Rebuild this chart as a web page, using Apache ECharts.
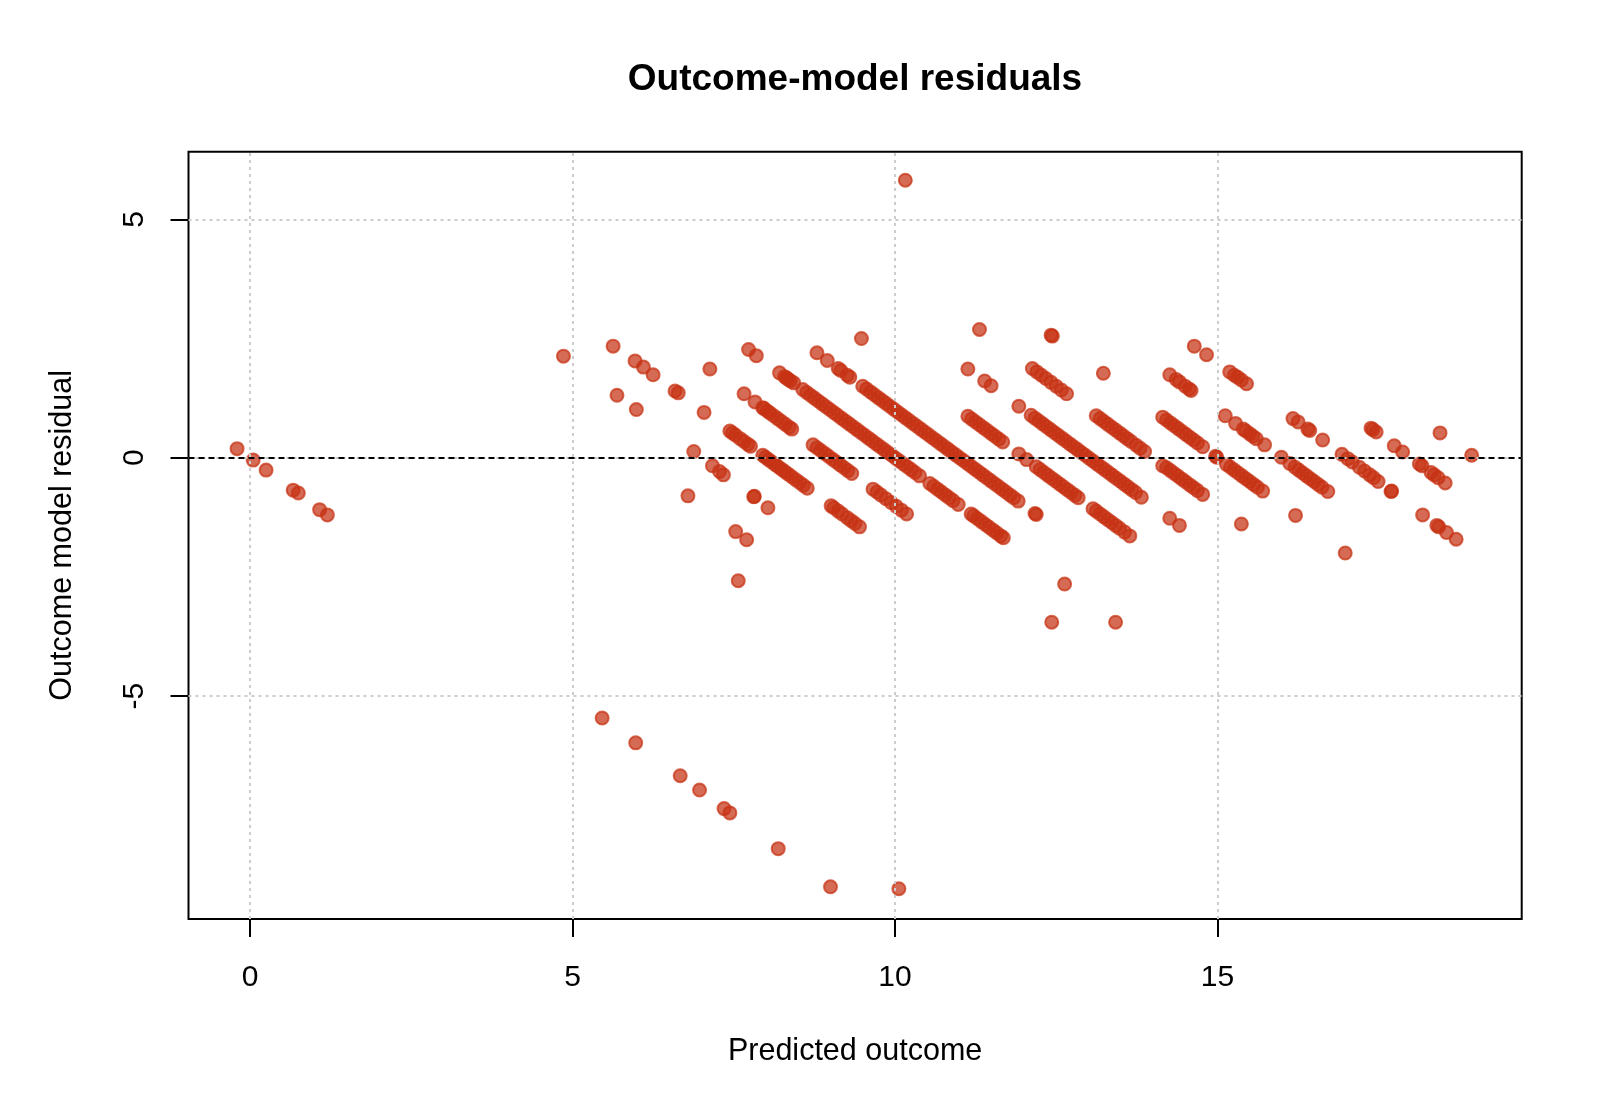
<!DOCTYPE html>
<html>
<head>
<meta charset="utf-8">
<title>Outcome-model residuals</title>
<script src="https://cdn.jsdelivr.net/npm/echarts@6/dist/echarts.min.js"></script>
<style>
  html, body { margin: 0; padding: 0; background: #fff; }
  #chart { width: 1600px; height: 1108px; }
</style>
</head>
<body>
<div id="chart"></div>
<script>
// [predicted outcome, residual] pairs, grouped by region
const leftPts = [
  [-0.20, 0.19], [0.05, -0.05], [0.25, -0.26], [0.67, -0.68], [0.75, -0.74], [1.08, -1.09], [1.20, -1.20]
];

const tailPts = [
  [5.46, -5.46], [5.98, -5.98], [6.67, -6.67], [6.97, -6.97], [7.35, -7.36], [7.44, -7.45],
  [8.19, -8.20], [9.00, -9.00], [10.06, -9.04], [10.16, 5.82], [7.57, -2.58],
  [12.43, -3.45], [13.42, -3.45], [12.63, -2.65], [16.98, -2.00]
];

const earlyPts = [
  [4.86, 2.13], [5.63, 2.34], [5.69, 1.31], [5.97, 2.03], [6.10, 1.90], [6.25, 1.74], [5.99, 1.01],
  [6.59, 1.40], [6.64, 1.36], [7.13, 1.86], [7.04, 0.95], [6.88, 0.13], [6.79, -0.80], [7.17, -0.17],
  [7.28, -0.29], [7.34, -0.36], [7.73, 2.27], [7.85, 2.14], [7.66, 1.34], [7.83, 1.17], [7.81, -0.82],
  [7.82, -0.81], [8.03, -1.05], [7.53, -1.55], [7.70, -1.72],
  [7.95, 1.05], [7.97, 1.03], [8.02, 0.98], [8.06, 0.94], [8.12, 0.88], [8.18, 0.82], [8.24, 0.76],
  [8.30, 0.70], [8.36, 0.64], [8.40, 0.60],
  [7.44, 0.56], [7.48, 0.52], [7.53, 0.47], [7.60, 0.40], [7.66, 0.34], [7.72, 0.28], [7.76, 0.24],
  [7.95, 0.05], [7.99, 0.01], [8.04, -0.04], [8.09, -0.09], [8.14, -0.14], [8.19, -0.19], [8.24, -0.24],
  [8.29, -0.29], [8.34, -0.34], [8.40, -0.40], [8.46, -0.46], [8.52, -0.52], [8.58, -0.58], [8.64, -0.64],
  [8.21, 1.78], [8.29, 1.70], [8.32, 1.67], [8.35, 1.64], [8.38, 1.61], [8.43, 1.57]
];

const midPts = [
  [8.79, 2.20], [8.95, 2.04], [9.12, 1.87], [9.16, 1.83], [9.26, 1.73], [9.30, 1.69], [9.48, 2.50],
  [8.57, 1.43], [8.63, 1.37], [8.69, 1.31], [8.75, 1.25], [8.81, 1.19], [8.87, 1.13], [8.93, 1.07],
  [8.99, 1.01], [9.05, 0.95], [9.11, 0.89], [9.17, 0.83], [9.23, 0.77], [9.29, 0.71], [9.35, 0.65],
  [9.41, 0.59], [9.47, 0.53], [9.53, 0.47], [9.59, 0.41], [9.65, 0.35], [9.71, 0.29], [9.77, 0.23],
  [9.83, 0.17], [9.89, 0.11], [9.95, 0.05], [10.01, -0.01], [10.07, -0.07], [10.13, -0.13],
  [10.19, -0.19], [10.25, -0.25], [10.31, -0.31], [10.38, -0.38],
  [9.50, 1.50], [9.56, 1.44], [9.62, 1.38], [9.68, 1.32], [9.74, 1.26], [9.80, 1.20], [9.86, 1.14],
  [9.92, 1.08], [9.98, 1.02], [10.04, 0.96], [10.10, 0.90], [10.16, 0.84], [10.22, 0.78], [10.28, 0.72],
  [10.34, 0.66], [10.40, 0.60], [10.46, 0.54], [10.52, 0.48], [10.58, 0.42], [10.64, 0.36], [10.70, 0.30],
  [10.76, 0.24], [10.82, 0.18], [10.88, 0.12], [10.94, 0.06], [11.00, 0.00], [11.06, -0.06], [11.12, -0.12],
  [11.18, -0.18], [11.24, -0.24], [11.30, -0.30], [11.36, -0.36], [11.42, -0.42], [11.48, -0.48],
  [11.54, -0.54], [11.60, -0.60], [11.66, -0.66], [11.72, -0.72], [11.78, -0.78], [11.84, -0.84], [11.91, -0.91],
  [8.73, 0.27], [8.79, 0.21], [8.85, 0.15], [8.91, 0.09], [8.97, 0.03], [9.03, -0.03], [9.09, -0.09],
  [9.15, -0.15], [9.21, -0.21], [9.27, -0.27], [9.33, -0.33],
  [9.66, -0.66], [9.72, -0.72], [9.78, -0.78], [9.86, -0.86], [9.94, -0.94], [10.02, -1.02], [10.10, -1.10], [10.18, -1.18],
  [9.01, -1.01], [9.05, -1.05], [9.12, -1.12], [9.18, -1.18], [9.26, -1.26], [9.32, -1.32], [9.38, -1.38], [9.45, -1.45],
  [10.54, -0.54], [10.60, -0.60], [10.66, -0.66], [10.72, -0.72], [10.78, -0.78], [10.84, -0.84], [10.90, -0.90], [10.98, -0.98],
  [11.18, -1.18], [11.22, -1.22], [11.28, -1.28], [11.34, -1.34], [11.40, -1.40], [11.46, -1.46],
  [11.52, -1.52], [11.58, -1.58], [11.64, -1.64], [11.68, -1.68],
  [11.13, 0.87], [11.19, 0.81], [11.25, 0.75], [11.31, 0.69], [11.37, 0.63], [11.43, 0.57],
  [11.49, 0.51], [11.55, 0.45], [11.61, 0.39], [11.67, 0.33],
  [11.92, 0.08], [12.04, -0.04],
  [11.13, 1.86], [11.39, 1.61], [11.49, 1.51], [11.92, 1.08], [11.31, 2.69]
];

const rightPts = [
  [12.19, -0.19], [12.25, -0.25], [12.31, -0.31], [12.37, -0.37], [12.43, -0.43], [12.49, -0.49],
  [12.55, -0.55], [12.61, -0.61], [12.67, -0.67], [12.73, -0.73], [12.79, -0.79], [12.84, -0.84],
  [13.07, -1.07], [13.12, -1.12], [13.18, -1.18], [13.24, -1.24], [13.30, -1.30], [13.36, -1.36],
  [13.42, -1.42], [13.48, -1.48], [13.56, -1.56], [13.64, -1.64],
  [12.17, -1.17], [12.19, -1.19],
  [12.11, 0.89], [12.17, 0.83], [12.23, 0.77], [12.29, 0.71], [12.35, 0.65], [12.41, 0.59], [12.47, 0.53],
  [12.53, 0.47], [12.59, 0.41], [12.65, 0.35], [12.71, 0.29], [12.77, 0.23], [12.83, 0.17], [12.89, 0.11],
  [12.95, 0.05], [13.01, -0.01], [13.07, -0.07], [13.13, -0.13], [13.19, -0.19], [13.25, -0.25],
  [13.31, -0.31], [13.37, -0.37], [13.43, -0.43], [13.49, -0.49], [13.55, -0.55], [13.61, -0.61],
  [13.67, -0.67], [13.73, -0.73], [13.82, -0.83],
  [12.13, 1.87], [12.20, 1.80], [12.27, 1.73], [12.34, 1.66], [12.42, 1.58], [12.50, 1.50], [12.58, 1.42], [12.66, 1.34],
  [13.12, 0.88], [13.18, 0.82], [13.24, 0.76], [13.30, 0.70], [13.36, 0.64], [13.42, 0.58], [13.48, 0.52],
  [13.54, 0.46], [13.60, 0.40], [13.66, 0.34], [13.74, 0.26], [13.80, 0.20], [13.87, 0.13],
  [14.15, -0.17], [14.21, -0.21], [14.27, -0.27], [14.33, -0.33], [14.39, -0.39], [14.45, -0.45],
  [14.51, -0.51], [14.57, -0.57], [14.63, -0.63], [14.69, -0.69], [14.77, -0.77],
  [14.26, -1.27], [14.41, -1.42],
  [12.44, 2.55], [12.42, 2.57], [13.23, 1.77],
  [14.15, 0.85], [14.21, 0.79], [14.27, 0.73], [14.33, 0.67], [14.39, 0.61], [14.45, 0.55],
  [14.51, 0.49], [14.57, 0.43], [14.63, 0.37], [14.69, 0.31], [14.77, 0.23],
  [14.97, 0.03], [14.99, 0.01],
  [15.14, -0.14], [15.20, -0.20], [15.26, -0.26], [15.32, -0.32], [15.38, -0.38], [15.44, -0.44],
  [15.50, -0.50], [15.56, -0.56], [15.62, -0.62], [15.70, -0.70],
  [15.37, -1.39],
  [14.26, 1.74], [14.36, 1.64], [14.41, 1.59], [14.50, 1.50], [14.56, 1.44], [14.59, 1.41],
  [15.12, 0.88], [15.28, 0.72], [15.40, 0.60], [15.44, 0.56], [15.50, 0.50], [15.55, 0.45], [15.60, 0.40], [15.73, 0.27],
  [15.99, 0.01],
  [16.12, -0.12], [16.20, -0.20], [16.26, -0.26], [16.32, -0.32], [16.38, -0.38], [16.44, -0.44],
  [16.50, -0.50], [16.56, -0.56], [16.62, -0.62], [16.71, -0.71],
  [16.21, -1.21],
  [14.64, 2.34], [14.83, 2.16], [15.19, 1.80], [15.26, 1.73], [15.31, 1.69], [15.37, 1.63], [15.45, 1.55],
  [16.17, 0.82], [16.25, 0.75], [16.40, 0.60], [16.43, 0.57], [16.63, 0.37],
  [16.93, 0.07], [17.02, -0.02], [17.09, -0.09], [17.20, -0.20], [17.28, -0.28], [17.36, -0.36],
  [17.42, -0.42], [17.49, -0.50], [17.69, -0.71], [17.70, -0.70],
  [17.38, 0.62], [17.41, 0.59], [17.46, 0.54], [17.74, 0.25], [17.87, 0.12], [18.13, -0.13], [18.17, -0.17],
  [18.31, -0.31], [18.36, -0.36], [18.42, -0.42], [18.53, -0.53],
  [18.18, -1.20], [18.40, -1.42], [18.43, -1.45], [18.55, -1.57], [18.70, -1.71],
  [18.45, 0.52], [18.94, 0.05]
];

const xTicks = [0, 5, 10, 15];
const yTicks = [-5, 0, 5];
const refLine = 0;

const font = 'Liberation Sans, Arial, Helvetica, sans-serif';
const dotColor = 'rgba(198, 50, 20, 0.72)';

let myChart = echarts.init(document.getElementById('chart'));

let gridLines = xTicks.map(function (v) { return { xAxis: v }; })
  .concat(yTicks.map(function (v) { return { yAxis: v }; }));

let option = {
  backgroundColor: '#fff',
  animation: false,
  title: {
    text: 'Outcome-model residuals',
    left: 855,
    top: 61,
    padding: 0,
    textAlign: 'center',
    textStyle: { fontFamily: font, fontSize: 37, fontWeight: 'bold', color: '#000' }
  },
  grid: {
    left: 188.5,
    right: 78.3,
    top: 151.7,
    bottom: 189,
    show: true,
    borderColor: '#000',
    borderWidth: 2,
    backgroundColor: 'transparent'
  },
  xAxis: {
    type: 'value',
    min: -0.953,
    max: 19.716,
    name: 'Predicted outcome',
    nameLocation: 'middle',
    nameGap: 117,
    nameTextStyle: { fontFamily: font, fontSize: 30.5, color: '#000' },
    axisLine: { show: false, onZero: false },
    axisTick: { show: true, length: 18, customValues: xTicks, lineStyle: { color: '#000', width: 2 } },
    axisLabel: { customValues: xTicks, margin: 44, fontFamily: font, fontSize: 30, color: '#000' },
    splitLine: { show: false }
  },
  yAxis: {
    type: 'value',
    min: -9.675,
    max: 6.418,
    name: 'Outcome model residual',
    nameLocation: 'middle',
    nameGap: 110,
    nameTextStyle: { fontFamily: font, fontSize: 30.5, color: '#000' },
    axisLine: { show: false, onZero: false },
    axisTick: { show: true, length: 18, customValues: yTicks, lineStyle: { color: '#000', width: 2 } },
    axisLabel: { customValues: yTicks, rotate: 90, margin: 39, fontFamily: font, fontSize: 30, color: '#000' },
    splitLine: { show: false }
  },
  series: [
    {
      // light dotted grid, like R's grid()
      type: 'scatter',
      data: [],
      z: 1,
      silent: true,
      markLine: {
        silent: true,
        symbol: 'none',
        label: { show: false },
        lineStyle: { color: '#cccccc', width: 2, type: [3, 4] },
        data: gridLines
      }
    },
    {
      type: 'scatter',
      data: leftPts.concat(tailPts, earlyPts, midPts, rightPts),
      symbol: 'circle',
      symbolSize: 13,
      z: 3,
      itemStyle: { color: dotColor, borderColor: dotColor, borderWidth: 2, opacity: 1 },
      emphasis: { disabled: true },
      markLine: {
        silent: true,
        symbol: 'none',
        label: { show: false },
        lineStyle: { color: '#000', width: 2, type: [6, 4] },
        data: [{ yAxis: refLine }]
      }
    }
  ]
};

myChart.setOption(option);
</script>
</body>
</html>
